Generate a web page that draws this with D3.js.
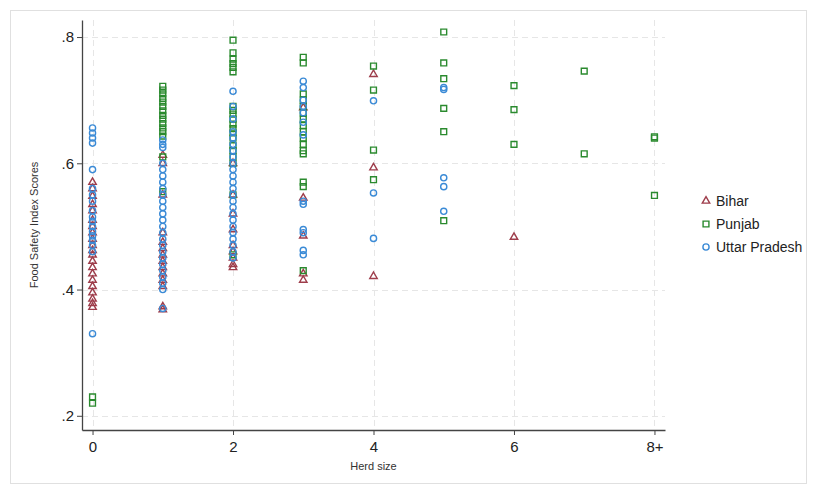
<!DOCTYPE html>
<html>
<head>
<meta charset="utf-8">
<script src="https://cdn.jsdelivr.net/npm/d3@7"></script>
<style>
  body { margin: 0; background: #fff; }
  svg { display: block; font-family: Arial, "Liberation Sans", sans-serif; }
</style>
</head>
<body>
<div id="chart"></div>
<script>
// Data: [herd size, food safety index score]
var bihar = [
  [0,0.57],[0,0.56],[0,0.548],[0,0.535],[0,0.525],[0,0.51],[0,0.50],[0,0.49],[0,0.48],[0,0.47],
  [0,0.462],[0,0.455],[0,0.445],[0,0.435],[0,0.425],[0,0.415],[0,0.405],[0,0.395],[0,0.385],[0,0.378],[0,0.372],
  [1,0.613],[1,0.60],[1,0.55],[1,0.49],[1,0.475],[1,0.465],[1,0.455],[1,0.445],[1,0.435],[1,0.425],
  [1,0.415],[1,0.405],[1,0.373],[1,0.368],
  [2,0.60],[2,0.55],[2,0.52],[2,0.495],[2,0.47],[2,0.46],[2,0.45],[2,0.44],[2,0.435],
  [3,0.688],[3,0.545],[3,0.485],[3,0.425],[3,0.415],
  [4,0.741],[4,0.593],[4,0.421],
  [6,0.483]
];
var punjab = [
  [0,0.23],[0,0.22],
  [1,0.722],[1,0.716],[1,0.71],[1,0.703],[1,0.697],[1,0.69],[1,0.683],[1,0.676],[1,0.67],[1,0.663],
  [1,0.656],[1,0.65],[1,0.643],[1,0.61],[1,0.555],
  [2,0.795],[2,0.775],[2,0.765],[2,0.758],[2,0.752],[2,0.745],[2,0.69],[2,0.684],[2,0.678],[2,0.67],
  [2,0.662],[2,0.655],[2,0.648],[2,0.64],[2,0.628],[2,0.62],[2,0.61],[2,0.60],[2,0.55],[2,0.455],
  [3,0.768],[3,0.759],[3,0.71],[3,0.70],[3,0.69],[3,0.68],[3,0.67],[3,0.66],[3,0.65],[3,0.64],
  [3,0.63],[3,0.62],[3,0.615],[3,0.57],[3,0.563],[3,0.43],
  [4,0.754],[4,0.716],[4,0.621],[4,0.574],
  [5,0.808],[5,0.759],[5,0.734],[5,0.687],[5,0.650],[5,0.509],
  [6,0.723],[6,0.685],[6,0.630],
  [7,0.746],[7,0.615],
  [8,0.642],[8,0.640],[8,0.549]
];
var uttarPradesh = [
  [0,0.656],[0,0.648],[0,0.64],[0,0.632],[0,0.59],[0,0.56],[0,0.55],[0,0.54],[0,0.525],[0,0.515],
  [0,0.508],[0,0.50],[0,0.492],[0,0.485],[0,0.478],[0,0.47],[0,0.46],[0,0.33],
  [1,0.637],[1,0.63],[1,0.625],[1,0.60],[1,0.59],[1,0.58],[1,0.57],[1,0.56],[1,0.55],[1,0.54],
  [1,0.53],[1,0.52],[1,0.51],[1,0.50],[1,0.49],[1,0.48],[1,0.47],[1,0.46],[1,0.45],[1,0.44],
  [1,0.43],[1,0.42],[1,0.41],[1,0.40],[1,0.37],
  [2,0.714],[2,0.69],[2,0.67],[2,0.65],[2,0.64],[2,0.63],[2,0.62],[2,0.61],[2,0.60],[2,0.59],
  [2,0.58],[2,0.57],[2,0.56],[2,0.55],[2,0.54],[2,0.53],[2,0.52],[2,0.51],[2,0.50],[2,0.49],
  [2,0.48],[2,0.47],[2,0.46],[2,0.45],
  [3,0.73],[3,0.72],[3,0.70],[3,0.69],[3,0.68],[3,0.665],[3,0.645],[3,0.54],[3,0.535],[3,0.495],
  [3,0.49],[3,0.462],[3,0.455],
  [4,0.699],[4,0.553],[4,0.481],
  [5,0.720],[5,0.717],[5,0.577],[5,0.563],[5,0.524]
];

var xTicks = [0, 2, 4, 6, 8];
var xTickLabels = ["0", "2", "4", "6", "8+"];
var yTicks = [0.2, 0.4, 0.6, 0.8];
var yTickLabels = [".2", ".4", ".6", ".8"];
var stateNames = ["Bihar", "Punjab", "Uttar Pradesh"];

var series = [
  {name: stateNames[0], data: bihar, shape: d3.symbolTriangle, color: "#9e3d4b"},
  {name: stateNames[1], data: punjab, shape: d3.symbolSquare, color: "#2a8a2e"},
  {name: stateNames[2], data: uttarPradesh, shape: d3.symbolCircle, color: "#3a8ad6"}
];

var W = 817, H = 494;
var svg = d3.select("#chart").append("svg")
    .attr("width", W).attr("height", H);

// outer frame
svg.append("rect")
    .attr("x", 10.5).attr("y", 10.5)
    .attr("width", 796).attr("height", 473)
    .attr("fill", "#fff").attr("stroke", "#e0e0e0");

// plot region
var plotLeft = 82, plotRight = 665, plotTop = 20, plotBottom = 430;

var x = d3.scaleLinear().domain([-0.15, 8.15]).range([plotLeft, plotRight]);
var y = d3.scaleLinear().domain([0.1775, 0.827]).range([plotBottom, plotTop]);

// grid
var grid = svg.append("g").attr("stroke", "#e6e6e6").attr("stroke-dasharray", "6,4");
grid.selectAll(".gy").data(yTicks).enter().append("line")
    .attr("x1", plotLeft).attr("x2", plotRight)
    .attr("y1", d => Math.round(y(d)) + 0.5).attr("y2", d => Math.round(y(d)) + 0.5);
grid.selectAll(".gx").data(xTicks).enter().append("line")
    .attr("y1", plotTop).attr("y2", plotBottom)
    .attr("x1", d => Math.round(x(d)) + 0.5).attr("x2", d => Math.round(x(d)) + 0.5);

// axes
var xAxis = d3.axisBottom(x).tickValues(xTicks)
    .tickFormat((d, i) => xTickLabels[i]).tickSize(5).tickSizeOuter(0);
var yAxis = d3.axisLeft(y).tickValues(yTicks)
    .tickFormat((d, i) => yTickLabels[i]).tickSize(5).tickSizeOuter(0);

var gx = svg.append("g").attr("transform", "translate(0," + plotBottom + ")").call(xAxis);
var gy = svg.append("g").attr("transform", "translate(" + plotLeft + ",0)").call(yAxis);

[gx, gy].forEach(g => {
  g.select(".domain").attr("stroke", "#444").attr("stroke-width", 1.3);
  g.selectAll(".tick line").attr("stroke", "#444");
  g.selectAll(".tick text").attr("fill", "#222").style("font-size", "15px")
      .style("font-family", "Arial, 'Liberation Sans', sans-serif");
});
gx.selectAll(".tick text").attr("dy", "0.9em");
gy.selectAll(".tick text").attr("x", -8);

// axis titles
svg.append("text")
    .attr("x", (plotLeft + plotRight) / 2).attr("y", 470)
    .attr("text-anchor", "middle").attr("fill", "#333")
    .style("font-size", "11px").text("Herd size");
svg.append("text")
    .attr("transform", "translate(38," + ((plotTop + plotBottom) / 2) + ") rotate(-90)")
    .attr("text-anchor", "middle").attr("fill", "#333")
    .style("font-size", "11px").text("Food Safety Index Scores");

function symbolFor(shape) {
  return d3.symbol().type(shape)
      .size(shape === d3.symbolTriangle ? 24 : shape === d3.symbolSquare ? 34 : 30);
}

// points
series.forEach(s => {
  var sym = symbolFor(s.shape);
  svg.append("g").selectAll("path")
      .data(s.data).enter().append("path")
      .attr("d", sym)
      .attr("transform", d => "translate(" + x(d[0]) + "," + y(d[1]) + ")")
      .attr("fill", "none")
      .attr("stroke", s.color)
      .attr("stroke-width", 1.4);
});

// legend
var legend = svg.append("g").attr("transform", "translate(706,201)");
series.forEach((s, i) => {
  var row = legend.append("g").attr("transform", "translate(0," + (i * 23) + ")");
  row.append("path").attr("d", symbolFor(s.shape)).attr("fill", "none")
      .attr("stroke", s.color).attr("stroke-width", 1.4);
  row.append("text").attr("x", 10).attr("y", 5)
      .attr("fill", "#222").style("font-size", "14px").text(s.name);
});
</script>
</body>
</html>
